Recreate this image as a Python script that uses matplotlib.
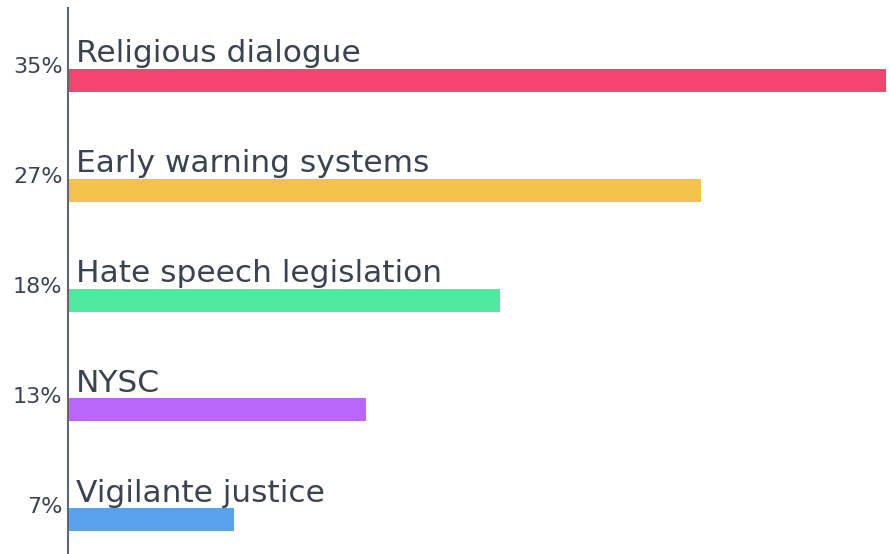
import matplotlib
matplotlib.use("Agg")
import matplotlib.pyplot as plt

categories = ["Religious dialogue", "Early warning systems", "Hate speech legislation", "NYSC", "Vigilante justice"]
values = [35.0, 27.1, 18.5, 12.75, 7.1]
pct_labels = ["35%", "27%", "18%", "13%", "7%"]
colors = ["#f3456f", "#f2c24a", "#4deaa0", "#bb66fb", "#58a2ee"]

W, H = 890, 554
fig = plt.figure(figsize=(W / 100, H / 100), dpi=100)
ax = fig.add_axes([68 / W, 0, (886 - 68) / W, (554 - 8) / H])

ypos = list(range(len(categories)))
bar_h = 23 / 110
ax.barh(ypos, values, height=bar_h, color=colors, edgecolor="none")
ax.set_xlim(0, 35)
ax.set_ylim((554 - 80) / 110, (8 - 80) / 110)

text_color = "#3b4350"
for i, cat in enumerate(categories):
    ax.annotate(cat, xy=(0, i - bar_h / 2), xytext=(5.5, 4.5), textcoords="offset points",
                ha="left", va="baseline", fontsize=22.5, color=text_color, family="DejaVu Sans")

ax.set_yticks([i - 0.14 for i in ypos])
ax.set_yticklabels(pct_labels, fontsize=16, color=text_color, family="DejaVu Sans")
ax.tick_params(axis="y", length=0, pad=4)
ax.set_xticks([])
for s in ["top", "right", "bottom"]:
    ax.spines[s].set_visible(False)
ax.spines["left"].set_color("#5f6670")
ax.spines["left"].set_linewidth(1.5)

fig.savefig("out.png", dpi=100)
